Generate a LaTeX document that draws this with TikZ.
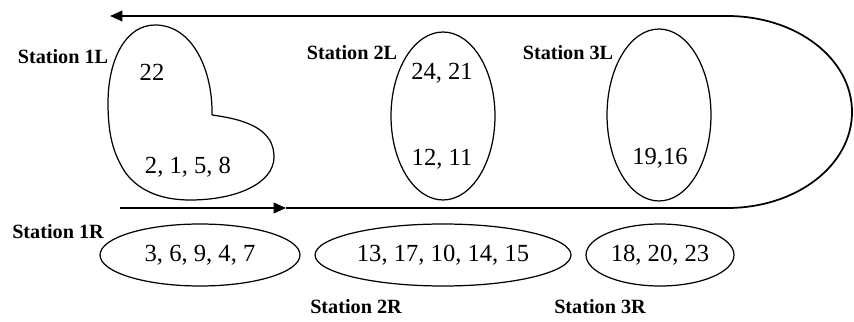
\documentclass[tikz,border=0pt]{standalone}
\usepackage{fontspec}
\setmainfont{Liberation Serif}
\usetikzlibrary{arrows.meta,shapes.geometric}

\tikzset{
  stn/.style={font=\fontsize{11.5}{13}\selectfont\bfseries},
  num/.style={font=\fontsize{14}{16}\selectfont},
  grp/.style={draw, ellipse, line width=0.7pt, inner sep=0pt},
  track/.style={line width=1pt},
  tip/.style={-{Triangle[length=7pt,width=6pt]}},
}

\begin{document}
\begin{tikzpicture}[x=0.02cm,y=0.02cm]
			\useasboundingbox (0,0) rectangle (854,321);

			% track loop
			\coordinate (t0) at (110,305);
			\coordinate (t1) at (727,305);
			\coordinate (b0) at (120,113);
			\coordinate (bm) at (286,113);
			\coordinate (b1) at (727,113);
			\draw[track,tip] (t1) -- (t0);
			\draw[track,tip] (b0) -- (bm);
			\draw[track] (bm) -- (b1)
			.. controls (797,113) and (852,156) .. (852,209)
			.. controls (852,262) and (797,305) .. (t1);

			% station 1
			\draw[line width=0.7pt] (212,206)
			.. controls (213,248) and (194,296) .. (155,296)
			.. controls (126,296) and (108,262) .. (108,218)
			.. controls (108,182) and (115,165) .. (125,149)
			.. controls (140,128) and (165,121) .. (190,121)
			.. controls (237,121) and (274,138) .. (274,164)
			.. controls (274,190) and (250,201) .. (212,206);
			\node	(s1l) at (63,264) [stn] {Station 1L};
			\node	(n22) at (152,249) [num] {22};
			\node	(n2158) at (188,154) [num] {2, 1, 5, 8};
			\node	(s1r) at (58,89) [stn] {Station 1R};
			\node	(g1r) at (200,66) [grp, minimum width=4cm, minimum height=1.24cm, num] {3, 6, 9, 4, 7};

			% station 2
			\node	(g2l) at (443,205) [grp, minimum width=2.08cm, minimum height=3.36cm] {};
			\node	(s2l) at (352,268) [stn] {Station 2L};
			\node	(n2421) at (442,248) [num] {24, 21};
			\node	(n1211) at (442,162) [num] {12, 11};
			\node	(g2r) at (443,66) [grp, minimum width=5.12cm, minimum height=1.24cm, num] {13, 17, 10, 14, 15};
			\node	(s2r) at (356,14) [stn] {Station 2R};

			% station 3
			\node	(g3l) at (659,206) [grp, minimum width=2.08cm, minimum height=3.44cm] {};
			\node	(s3l) at (568,268) [stn] {Station 3L};
			\node	(n1916) at (660,163) [num] {19,16};
			\node	(g3r) at (660,66) [grp, minimum width=2.96cm, minimum height=1.24cm, num] {18, 20, 23};
			\node	(s3r) at (600,14) [stn] {Station 3R};
		\end{tikzpicture}
\end{document}
